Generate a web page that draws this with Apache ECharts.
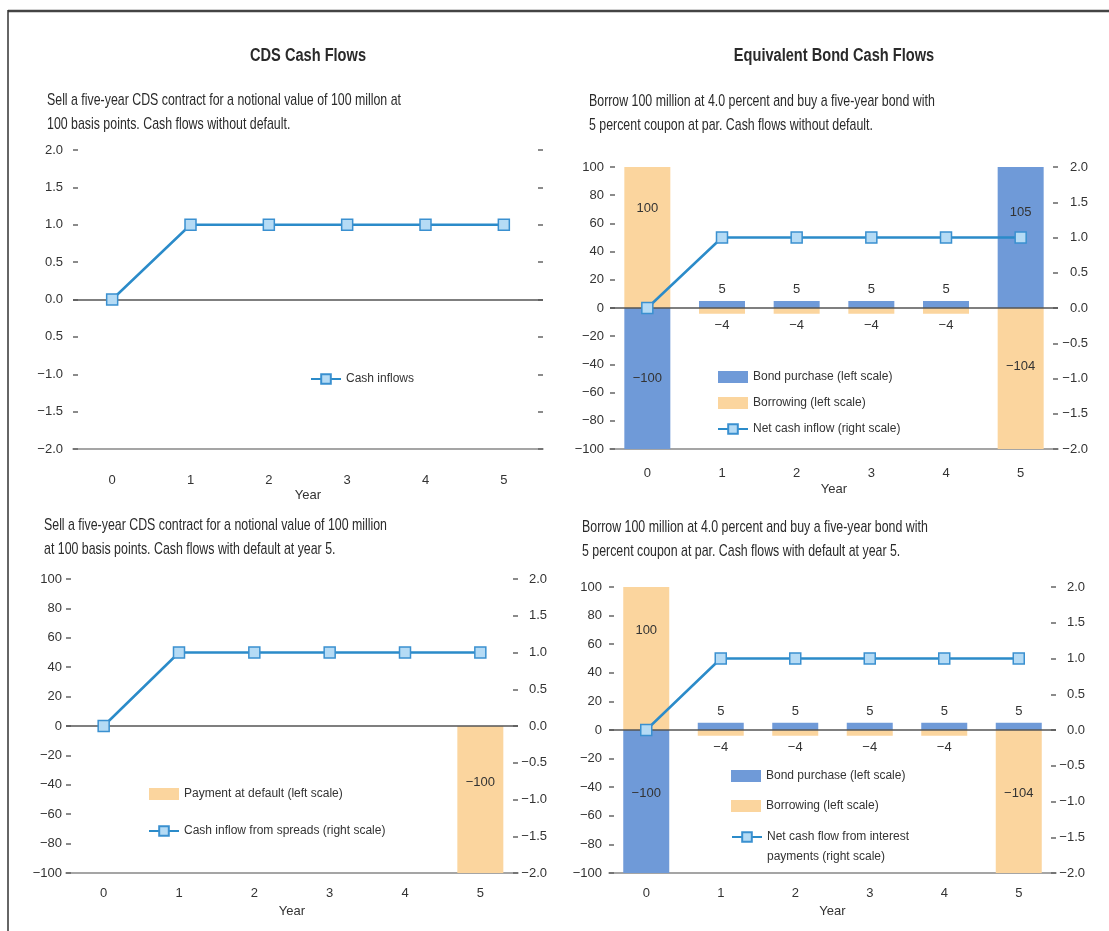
<!DOCTYPE html>
<html>
<head>
<meta charset="utf-8">
<script src="https://cdn.jsdelivr.net/npm/echarts@6/dist/echarts.min.js"></script>
<style>
html,body{margin:0;padding:0;background:#fff;}
#chart{width:1109px;height:931px;}
</style>
</head>
<body>
<div id="chart"></div>
<script>
// ---------- data ----------
const years = ['0', '1', '2', '3', '4', '5'];

const p1CashInflows = [0, 1, 1, 1, 1, 1];

const p2BondPurchase = [-100, 5, 5, 5, 5, 105];
const p2Borrowing = [100, -4, -4, -4, -4, -104];
const p2NetInflow = [0, 1, 1, 1, 1, 1];

const p3PaymentAtDefault = [null, null, null, null, null, -100];
const p3SpreadInflow = [0, 1, 1, 1, 1, 1];

const p4BondPurchase = [-100, 5, 5, 5, 5, 5];
const p4Borrowing = [100, -4, -4, -4, -4, -104];
const p4NetInterest = [0, 1, 1, 1, 1, 1];

const p1LeftTickLabels = ['\u22122.0', '\u22121.5', '\u22121.0', '0.5', '0.0', '0.5', '1.0', '1.5', '2.0'];
const leftTickLabels = ['\u2212100', '\u221280', '\u221260', '\u221240', '\u221220', '0', '20', '40', '60', '80', '100'];
const rightTickLabels = ['\u22122.0', '\u22121.5', '\u22121.0', '\u22120.5', '0.0', '0.5', '1.0', '1.5', '2.0'];

// ---------- styling ----------
const FONT = "'Liberation Sans Narrow', 'Liberation Sans', Arial, sans-serif";
const BLUE = '#6f9ad8';
const PEACH = '#fbd59e';
const LINE = '#2b8bc9';
const TXT = '#333';

// label offsets for the tall bars (position inside)
const bigLabelOffsets = {
  p2Bond: {0: [0, 0], 5: [0, -25]},
  p2Borrow: {0: [0, -29], 5: [0, -12]},
  p3Pay: {5: [0, -17]},
  p4Bond: {0: [0, -8]},
  p4Borrow: {0: [0, -28], 5: [0, -8]}
};

function barItems(values, offsets) {
  return values.map(function (v, i) {
    if (v == null) return null;
    const big = Math.abs(v) >= 50;
    return {
      value: v,
      label: big ? {position: 'inside', offset: offsets[i] || [0, 0]}
                 : {position: v >= 0 ? 'top' : 'bottom', distance: 5}
    };
  });
}

const barLabel = {
  show: true, color: TXT, fontSize: 13, fontFamily: FONT,
  formatter: function (p) { return String(p.value).replace('-', '\u2212'); }
};

const grids = [
  {left: 73, top: 150, width: 470, height: 299},
  {left: 610, top: 167, width: 448, height: 282},
  {left: 66, top: 579, width: 452, height: 294},
  {left: 609, top: 587, width: 447, height: 286}
];
const xLabelMargin = [25, 18, 14, 14];
const xNameGap = [40, 34, 32, 32];
const leftMargin = [10, 6, 4, 7];

const xAxes = grids.map(function (g, i) {
  return {
    type: 'category', gridIndex: i, data: years, boundaryGap: true,
    name: 'Year', nameLocation: 'middle', nameGap: xNameGap[i],
    nameTextStyle: {color: TXT, fontSize: 13, fontFamily: FONT},
    axisLine: {onZero: false, lineStyle: {color: '#888', width: 1.5}},
    axisTick: {inside: true, length: 4, interval: 0, lineStyle: {color: '#888', width: 1.5}},
    axisLabel: {color: TXT, fontSize: 13, fontFamily: FONT, margin: xLabelMargin[i]},
    splitLine: {show: false}
  };
});

function yAxis(gridIndex, pos, min, max, interval, labels, margin, showLabel, align) {
  return {
    type: 'value', gridIndex: gridIndex, position: pos, min: min, max: max, interval: interval,
    axisLine: {show: false},
    axisTick: {show: true, inside: true, length: 5, lineStyle: {color: '#666', width: 1.5}},
    axisLabel: {
      show: showLabel, color: TXT, fontSize: 13, fontFamily: FONT, margin: margin,
      align: align,
      formatter: function (v) {
        const idx = Math.round((v - min) / interval);
        return labels[idx];
      }
    },
    splitLine: {show: false}
  };
}

const yAxes = [
  yAxis(0, 'left', -2, 2, 0.5, p1LeftTickLabels, leftMargin[0], true, 'right'),
  yAxis(0, 'right', -2, 2, 0.5, rightTickLabels, 30, false, 'right'),
  yAxis(1, 'left', -100, 100, 20, leftTickLabels, leftMargin[1], true, 'right'),
  yAxis(1, 'right', -2, 2, 0.5, rightTickLabels, 30, true, 'right'),
  yAxis(2, 'left', -100, 100, 20, leftTickLabels, leftMargin[2], true, 'right'),
  yAxis(2, 'right', -2, 2, 0.5, rightTickLabels, 29, true, 'right'),
  yAxis(3, 'left', -100, 100, 20, leftTickLabels, leftMargin[3], true, 'right'),
  yAxis(3, 'right', -2, 2, 0.5, rightTickLabels, 29, true, 'right')
];

const zeroLine = {
  silent: true, symbol: ['none', 'none'], label: {show: false},
  lineStyle: {color: '#555', width: 1.5, type: 'solid'},
  data: [{yAxis: 0}]
};

function lineSeries(name, data, xi, yi, withZero) {
  const s = {
    type: 'line', name: name, data: data, xAxisIndex: xi, yAxisIndex: yi,
    symbol: 'rect', symbolSize: 11, z: 5,
    lineStyle: {color: LINE, width: 2.5},
    itemStyle: {color: '#b5dbf5', borderColor: '#3a90d0', borderWidth: 1.5}
  };
  if (withZero) s.markLine = zeroLine;
  return s;
}

function barSeries(name, values, offsets, color, xi, yi, withZero) {
  const s = {
    type: 'bar', name: name, data: barItems(values, offsets), xAxisIndex: xi, yAxisIndex: yi,
    barWidth: 46, barGap: '-100%', itemStyle: {color: color}, label: barLabel
  };
  if (withZero) s.markLine = zeroLine;
  return s;
}

const BOND = 'Bond purchase (left scale)';
const BORROW = 'Borrowing (left scale)';
const NET4 = 'Net cash flow from interest payments (right scale)';

const series = [
  lineSeries('Cash inflows', p1CashInflows, 0, 0, true),

  barSeries(BOND, p2BondPurchase, bigLabelOffsets.p2Bond, BLUE, 1, 2, false),
  barSeries(BORROW, p2Borrowing, bigLabelOffsets.p2Borrow, PEACH, 1, 2, true),
  lineSeries('Net cash inflow (right scale)', p2NetInflow, 1, 3, false),

  barSeries('Payment at default (left scale)', p3PaymentAtDefault, bigLabelOffsets.p3Pay, PEACH, 2, 4, true),
  lineSeries('Cash inflow from spreads (right scale)', p3SpreadInflow, 2, 5, false),

  barSeries(BOND, p4BondPurchase, bigLabelOffsets.p4Bond, BLUE, 3, 6, false),
  barSeries(BORROW, p4Borrowing, bigLabelOffsets.p4Borrow, PEACH, 3, 6, true),
  lineSeries(NET4, p4NetInterest, 3, 7, false)
];

const legendText = {color: TXT, fontSize: 12, fontFamily: FONT};
const legBase = {itemWidth: 30, itemHeight: 12, textStyle: legendText, selectedMode: false, orient: 'vertical'};
const legends = [
  Object.assign({}, legBase, {data: ['Cash inflows'], left: 305, top: 368}),
  Object.assign({}, legBase, {data: [{name: BOND, icon: 'rect'}, {name: BORROW, icon: 'rect'}, 'Net cash inflow (right scale)'],
    left: 712, top: 366, itemGap: 14}),
  Object.assign({}, legBase, {data: [{name: 'Payment at default (left scale)', icon: 'rect'}, 'Cash inflow from spreads (right scale)'],
    left: 143, top: 783, itemGap: 25}),
  Object.assign({}, legBase, {data: [{name: BOND, icon: 'rect'}, {name: BORROW, icon: 'rect'}],
    left: 726, top: 765, itemGap: 18}),
  Object.assign({}, legBase, {data: [{name: NET4, textStyle: {lineHeight: 20}}],
    left: 726, top: 802,
    formatter: function (n) { return n === NET4 ? '\nNet cash flow from interest\npayments (right scale)' : n; }})
];

// condensed-looking text: scale horizontally to the reference widths
const measureCtx = document.createElement('canvas').getContext('2d');
function textWidth(text, font) { measureCtx.font = font; return measureCtx.measureText(text).width; }
const SUB_FONT = '17px ' + FONT;
const TITLE_FONT = 'bold 18px ' + FONT;
const subScale = 343 / textWidth('Sell a five-year CDS contract for a notional value of 100 million', SUB_FONT);
const titleScale = 116 / textWidth('CDS Cash Flows', TITLE_FONT);

function txt(text, x, y, font, align, scale) {
  return {
    type: 'text', x: x, y: y, silent: true, scaleX: scale, scaleY: 1,
    style: {text: text, fill: '#2a2a2a', font: font, textAlign: align, textVerticalAlign: 'middle'}
  };
}

const graphics = [
  {type: 'line', shape: {x1: 8, y1: 11, x2: 1109, y2: 11}, style: {stroke: '#444', lineWidth: 2.5}, silent: true},
  {type: 'line', shape: {x1: 8, y1: 10, x2: 8, y2: 931}, style: {stroke: '#333', lineWidth: 1.5}, silent: true},
  txt('CDS Cash Flows', 308, 56, TITLE_FONT, 'center', titleScale),
  txt('Equivalent Bond Cash Flows', 834, 56, TITLE_FONT, 'center', titleScale),
  txt('Sell a five-year CDS contract for a notional value of 100 millon at', 47, 100, SUB_FONT, 'left', subScale),
  txt('100 basis points. Cash flows without default.', 47, 124, SUB_FONT, 'left', subScale),
  txt('Borrow 100 million at 4.0 percent and buy a five-year bond with', 589, 101, SUB_FONT, 'left', subScale),
  txt('5 percent coupon at par. Cash flows without default.', 589, 125, SUB_FONT, 'left', subScale),
  txt('Sell a five-year CDS contract for a notional value of 100 million', 44, 525, SUB_FONT, 'left', subScale),
  txt('at 100 basis points. Cash flows with default at year 5.', 44, 549, SUB_FONT, 'left', subScale),
  txt('Borrow 100 million at 4.0 percent and buy a five-year bond with', 582, 527, SUB_FONT, 'left', subScale),
  txt('5 percent coupon at par. Cash flows with default at year 5.', 582, 551, SUB_FONT, 'left', subScale)
];

const chart = echarts.init(document.getElementById('chart'));
chart.setOption({
  animation: false,
  backgroundColor: '#fff',
  textStyle: {fontFamily: FONT},
  grid: grids,
  xAxis: xAxes,
  yAxis: yAxes,
  legend: legends,
  series: series,
  graphic: graphics
});
</script>
</body>
</html>
